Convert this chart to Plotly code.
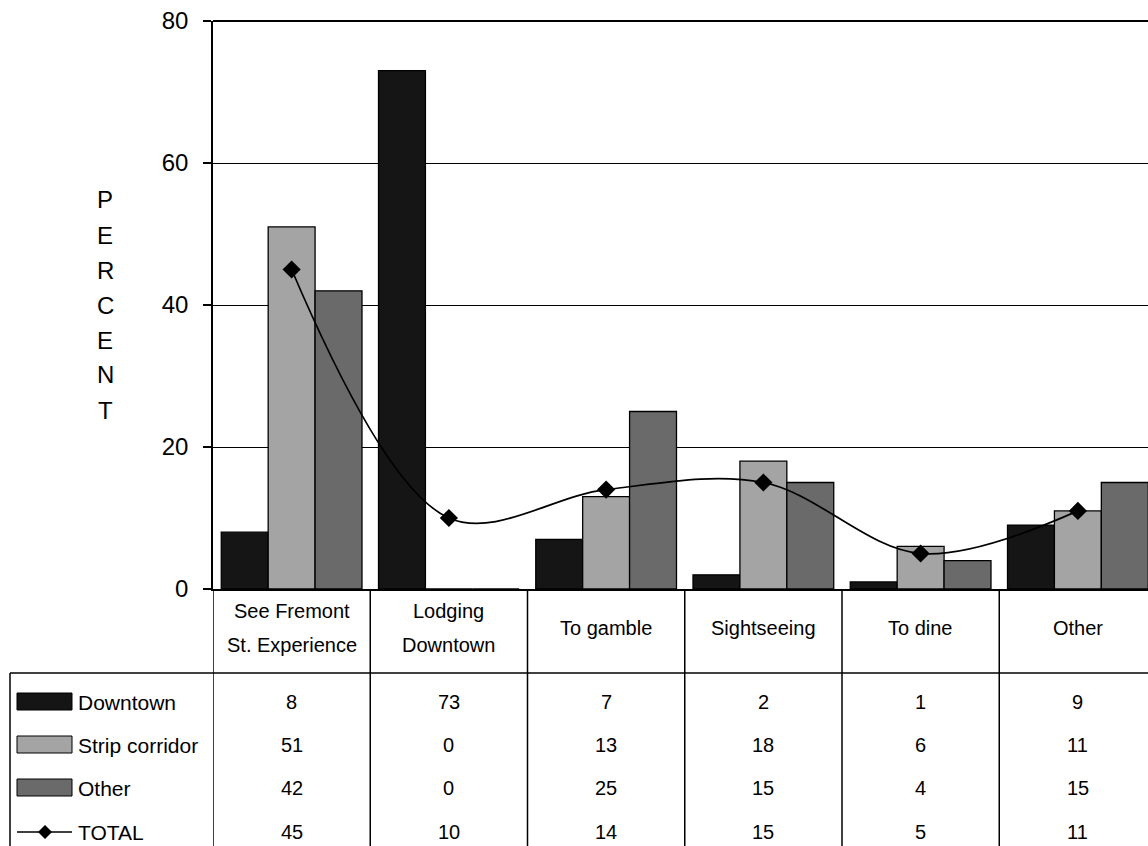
import plotly.graph_objects as go

# ---- data -------------------------------------------------------------
categories = ["See Fremont<br>St. Experience", "Lodging<br>Downtown", "To gamble",
              "Sightseeing", "To dine", "Other"]
downtown = [8, 73, 7, 2, 1, 9]
strip_corridor = [51, 0, 13, 18, 6, 11]
other = [42, 0, 25, 15, 4, 15]
total = [45, 10, 14, 15, 5, 11]
series_names = ["Downtown", "Strip corridor", "Other", "TOTAL"]
y_ticks = [0, 20, 40, 60, 80]
axis_title = "PERCENT"

# ---- styling / geometry -------------------------------------------------
W, H = 1148, 846
PL, PT, PB = 213, 21, 589          # plot area left / top / bottom (px)
PW, PH = W - PL, PB - PT
CAT_W = 157.25                     # px per category
FONT = "Arial, Liberation Sans, sans-serif"
colors = ["#151515", "#a4a4a4", "#6a6a6a"]
x_idx = list(range(len(categories)))


def px(x):
    return (x - PL) / PW


def py(y):
    return (PB - y) / PH


fig = go.Figure()
for name, vals, col in zip(series_names[:3], [downtown, strip_corridor, other], colors):
    fig.add_trace(go.Bar(x=x_idx, y=vals, name=name, marker_color=col,
                         marker_line=dict(color="black", width=1.3), showlegend=False))

fig.add_trace(go.Scatter(x=x_idx, y=total, name=series_names[3], mode="lines+markers",
                         line=dict(color="black", width=1.7, shape="spline", smoothing=1),
                         marker=dict(symbol="diamond", size=14, color="black"),
                         showlegend=False))

shapes = []
annotations = []

# top edge of the plot area (gridline at the axis maximum)
shapes.append(dict(type="line", xref="paper", yref="paper", x0=0, x1=1, y0=1, y1=1,
                   line=dict(color="black", width=2)))

# category boundaries running through the data table
for b in range(len(categories)):
    shapes.append(dict(type="line", xref="x", yref="paper", x0=b - 0.5, x1=b - 0.5,
                       y0=py(PB), y1=py(H + 2), line=dict(color="black", width=1.5)))
# separator between header row and value rows
shapes.append(dict(type="line", xref="paper", yref="paper", x0=px(10), x1=px(W + 5),
                   y0=py(673), y1=py(673), line=dict(color="black", width=1.5)))
# left edge of the legend column
shapes.append(dict(type="line", xref="paper", yref="paper", x0=px(10), x1=px(10),
                   y0=py(673), y1=py(H + 2), line=dict(color="black", width=1.5)))

# category labels (header row)
for i, lab in enumerate(categories):
    lines = lab.split("<br>")
    if len(lines) == 1:
        ys = [628]
    else:
        ys = [611, 645]
    for t, yy in zip(lines, ys):
        annotations.append(dict(x=i, y=py(yy), xref="x", yref="paper", text=t,
                                showarrow=False, font=dict(family=FONT, size=20, color="black"),
                                xanchor="center", yanchor="middle"))

# value rows with legend keys
row_y = [702, 745, 788, 832]
for r, (name, vals) in enumerate(zip(series_names, [downtown, strip_corridor, other, total])):
    yy = row_y[r]
    for i, v in enumerate(vals):
        annotations.append(dict(x=i, y=py(yy), xref="x", yref="paper", text=str(v),
                                showarrow=False, font=dict(family=FONT, size=20, color="black"),
                                xanchor="center", yanchor="middle"))
    annotations.append(dict(x=px(76), y=py(yy), xref="paper", yref="paper", text=name,
                            showarrow=False, font=dict(family=FONT, size=21, color="black"),
                            xanchor="left", yanchor="middle"))
    if r < 3:
        shapes.append(dict(type="rect", xref="paper", yref="paper",
                           x0=px(17), x1=px(72), y0=py(yy - 9), y1=py(yy + 8),
                           fillcolor=colors[r], line=dict(color="black", width=1)))
    else:
        shapes.append(dict(type="line", xref="paper", yref="paper",
                           x0=px(17), x1=px(72), y0=py(yy), y1=py(yy),
                           line=dict(color="black", width=1.5)))
        cx, s = 45, 7
        path = (f"M {px(cx - s)},{py(yy)} L {px(cx)},{py(yy - s)} "
                f"L {px(cx + s)},{py(yy)} L {px(cx)},{py(yy + s)} Z")
        shapes.append(dict(type="path", xref="paper", yref="paper", path=path,
                           fillcolor="black", line=dict(color="black", width=0)))

# vertical axis title, one letter per line
for k, ch in enumerate(axis_title):
    annotations.append(dict(x=px(105), y=py(200 + 35 * k), xref="paper", yref="paper",
                            text=ch, showarrow=False,
                            font=dict(family=FONT, size=24, color="black"),
                            xanchor="center", yanchor="middle"))

fig.update_layout(
    width=W, height=H,
    margin=dict(l=PL, r=0, t=PT, b=H - PB, pad=0),
    paper_bgcolor="white", plot_bgcolor="white",
    barmode="group", bargap=0.105, bargroupgap=0,
    shapes=shapes, annotations=annotations,
    font=dict(family=FONT, color="black"),
)
fig.update_xaxes(range=[-0.5, -0.5 + PW / CAT_W], showticklabels=False, ticks="",
                 showgrid=False, showline=True, linecolor="black", linewidth=1.5,
                 zeroline=False, fixedrange=True)
fig.update_yaxes(range=[0, 80], tickvals=y_ticks, ticks="outside", ticklen=8,
                 tickcolor="black", tickwidth=1.5, ticklabelstandoff=10,
                 tickfont=dict(family=FONT, size=24, color="black"),
                 showgrid=True, gridcolor="black", gridwidth=1.3,
                 showline=True, linecolor="black", linewidth=1.5, zeroline=False,
                 fixedrange=True)

fig.write_html("out.html")
